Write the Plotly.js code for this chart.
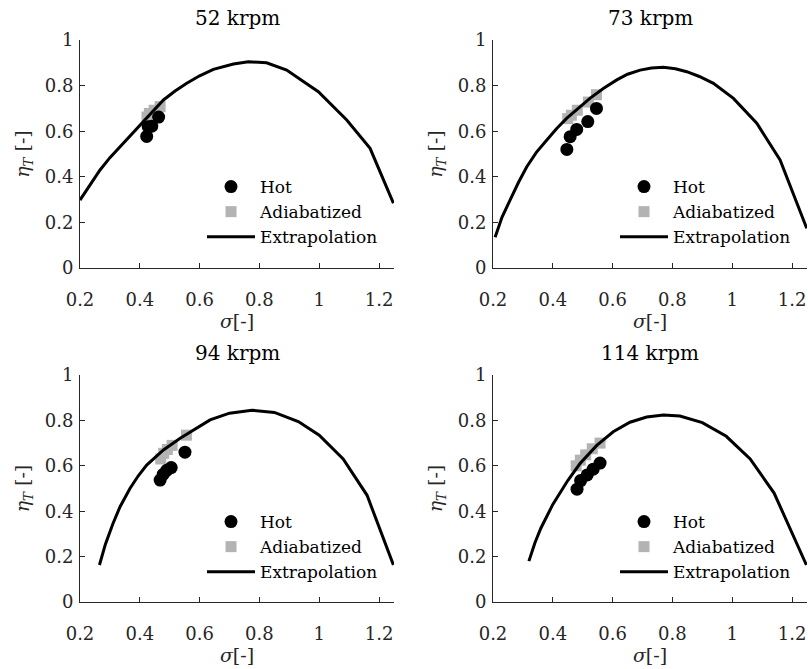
<!DOCTYPE html>
<html>
<head>
<meta charset="utf-8">
<script src="https://cdn.plot.ly/plotly-3.0.1.min.js"></script>
<style>html,body{margin:0;padding:0;background:#fff;}#chart{width:808px;height:669px;}</style>
</head>
<body>
<div id="chart"></div>
<script>
// ---- data ----
const panelTitles = ["52 krpm", "73 krpm", "94 krpm", "114 krpm"];

const hotSigma52 = [0.423, 0.428, 0.440, 0.463];
const hotEta52   = [0.577, 0.620, 0.622, 0.662];
const adiSigma52 = [0.424, 0.432, 0.448, 0.468];
const adiEta52   = [0.662, 0.678, 0.692, 0.708];
const extSigma52 = [0.200, 0.234, 0.267, 0.300, 0.334, 0.367, 0.401, 0.440, 0.479, 0.518, 0.557, 0.600, 0.646, 0.713, 0.763, 0.824, 0.891, 0.997, 1.092, 1.170, 1.248];
const extEta52   = [0.298, 0.368, 0.430, 0.484, 0.532, 0.580, 0.627, 0.684, 0.737, 0.776, 0.810, 0.843, 0.871, 0.895, 0.905, 0.900, 0.868, 0.773, 0.649, 0.525, 0.284];

const hotSigma73 = [0.447, 0.458, 0.480, 0.517, 0.546];
const hotEta73   = [0.520, 0.576, 0.608, 0.642, 0.700];
const adiSigma73 = [0.450, 0.462, 0.482, 0.519, 0.546];
const adiEta73   = [0.655, 0.670, 0.692, 0.728, 0.760];
const extSigma73 = [0.207, 0.230, 0.257, 0.285, 0.313, 0.345, 0.380, 0.413, 0.447, 0.485, 0.524, 0.570, 0.614, 0.650, 0.692, 0.730, 0.770, 0.810, 0.848, 0.890, 0.937, 1.004, 1.082, 1.160, 1.249];
const extEta73   = [0.135, 0.222, 0.298, 0.375, 0.444, 0.507, 0.561, 0.612, 0.657, 0.702, 0.744, 0.788, 0.825, 0.850, 0.868, 0.877, 0.880, 0.874, 0.861, 0.840, 0.810, 0.744, 0.635, 0.474, 0.174];

const hotSigma94 = [0.468, 0.478, 0.490, 0.505, 0.551];
const hotEta94   = [0.537, 0.562, 0.580, 0.592, 0.660];
const adiSigma94 = [0.470, 0.480, 0.492, 0.508, 0.556];
const adiEta94   = [0.630, 0.655, 0.672, 0.690, 0.735];
const extSigma94 = [0.265, 0.285, 0.310, 0.334, 0.367, 0.395, 0.423, 0.479, 0.535, 0.590, 0.635, 0.700, 0.775, 0.850, 0.930, 1.000, 1.080, 1.160, 1.248];
const extEta94   = [0.163, 0.255, 0.345, 0.420, 0.500, 0.556, 0.603, 0.670, 0.721, 0.765, 0.802, 0.832, 0.845, 0.835, 0.795, 0.735, 0.630, 0.470, 0.163];

const hotSigma114 = [0.481, 0.493, 0.515, 0.535, 0.558];
const hotEta114   = [0.497, 0.535, 0.560, 0.585, 0.612];
const adiSigma114 = [0.478, 0.492, 0.510, 0.532, 0.558];
const adiEta114   = [0.600, 0.625, 0.648, 0.675, 0.700];
const extSigma114 = [0.320, 0.340, 0.360, 0.380, 0.400, 0.450, 0.491, 0.547, 0.602, 0.658, 0.714, 0.770, 0.825, 0.900, 0.980, 1.060, 1.140, 1.248];
const extEta114   = [0.180, 0.260, 0.325, 0.380, 0.430, 0.535, 0.610, 0.690, 0.750, 0.792, 0.815, 0.824, 0.819, 0.790, 0.730, 0.630, 0.480, 0.163];

const xTicks = [0.2, 0.4, 0.6, 0.8, 1, 1.2];
const yTicks = [0, 0.2, 0.4, 0.6, 0.8, 1];

// ---- build ----
const panels = [
  {hs: hotSigma52, he: hotEta52, as: adiSigma52, ae: adiEta52, es: extSigma52, ee: extEta52},
  {hs: hotSigma73, he: hotEta73, as: adiSigma73, ae: adiEta73, es: extSigma73, ee: extEta73},
  {hs: hotSigma94, he: hotEta94, as: adiSigma94, ae: adiEta94, es: extSigma94, ee: extEta94},
  {hs: hotSigma114, he: hotEta114, as: adiSigma114, ae: adiEta114, es: extSigma114, ee: extEta114}
];

const W = 808, H = 669;
const FONT = "DejaVu Serif";
const AX = "#262626";
// pixel boxes of each axes (left, right, top, bottom)
const boxes = [
  [80, 394, 40, 268],
  [493, 807, 40, 268],
  [80, 394, 375, 602],
  [493, 807, 375, 602]
];

const traces = [];
const layout = {
  width: W, height: H,
  margin: {l: 0, r: 0, t: 0, b: 0},
  paper_bgcolor: "#fff", plot_bgcolor: "rgba(0,0,0,0)",
  showlegend: true,
  font: {family: FONT, color: "#000"},
  annotations: []
};

panels.forEach((p, i) => {
  const n = i === 0 ? "" : String(i + 1);
  const xa = "x" + n, ya = "y" + n;
  const lg = "legend" + n;
  traces.push({
    x: p.as, y: p.ae, xaxis: xa, yaxis: ya, type: "scatter", mode: "markers",
    name: "Adiabatized", legend: lg, legendrank: 2,
    marker: {symbol: "square", size: 11, color: "#b3b3b3"}
  });
  traces.push({
    x: p.hs, y: p.he, xaxis: xa, yaxis: ya, type: "scatter", mode: "markers",
    name: "Hot", legend: lg, legendrank: 1,
    marker: {symbol: "circle", size: 13, color: "#000"}
  });
  traces.push({
    x: p.es, y: p.ee, xaxis: xa, yaxis: ya, type: "scatter", mode: "lines",
    name: "Extrapolation", legend: lg, legendrank: 3,
    line: {color: "#000", width: 3}
  });

  const b = boxes[i];
  const axCommon = {
    showline: true, linecolor: AX, linewidth: 1, ticks: "inside", ticklen: 5,
    tickcolor: AX, tickwidth: 1, showgrid: false, zeroline: false, mirror: false,
    tickfont: {family: FONT, size: 18, color: AX}
  };
  layout["xaxis" + n] = Object.assign({}, axCommon, {
    domain: [b[0] / W, b[1] / W], anchor: ya, range: [0.2, 1.25],
    tickmode: "array", tickvals: xTicks, ticklabelstandoff: 15,
    title: {text: "<i>σ</i>[-]", font: {family: FONT, size: 19, color: AX}, standoff: 5}
  });
  layout["yaxis" + n] = Object.assign({}, axCommon, {
    domain: [1 - b[3] / H, 1 - b[2] / H], anchor: xa, range: [0, 1],
    tickmode: "array", tickvals: yTicks, ticklabelstandoff: 2,
    title: {text: "<i>η<sub>T</sub></i> [-]", font: {family: FONT, size: 19, color: AX}, standoff: 10}
  });
  layout[lg] = {
    x: (b[0] + 122) / W, xanchor: "left",
    y: 1 - (b[2] + 129) / H, yanchor: "top",
    bgcolor: "rgba(0,0,0,0)", borderwidth: 0,
    font: {family: FONT, size: 17, color: "#000"},
    itemwidth: 48, tracegroupgap: 0, traceorder: "normal"
  };
  layout.annotations.push({
    text: panelTitles[i], xref: "paper", yref: "paper",
    x: (b[0] + b[1]) / 2 / W, y: 1 - (b[2] - 22) / H,
    xanchor: "center", yanchor: "middle", showarrow: false,
    font: {family: FONT, size: 20, color: "#000"}
  });
});

Plotly.newPlot("chart", traces, layout, {staticPlot: true, displayModeBar: false});
</script>
</body>
</html>
